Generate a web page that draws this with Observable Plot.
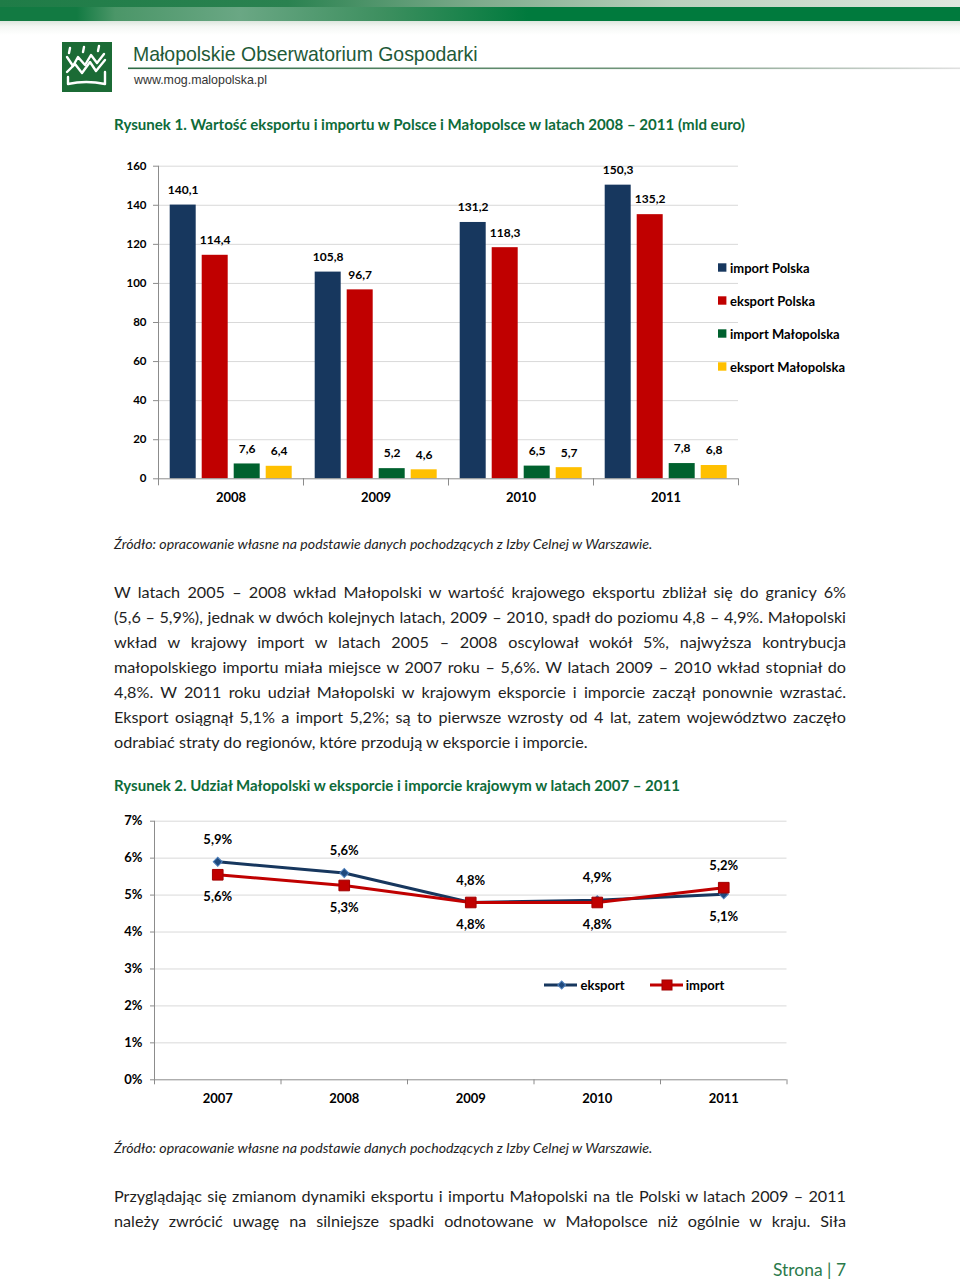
<!DOCTYPE html>
<html>
<head>
<meta charset="utf-8">
<script src="https://cdn.jsdelivr.net/npm/d3@7"></script>
<script src="https://cdn.jsdelivr.net/npm/@observablehq/plot@0.6"></script>
<style>
  html, body { margin: 0; padding: 0; background: #fff; }
  #page { position: relative; width: 960px; height: 1282px; overflow: hidden; font-family: Lato, "Open Sans", sans-serif; color: #1e1e1e; }
  .ln { position: absolute; left: 114px; width: 732px; text-align: justify; text-align-last: justify; line-height: 20px; color: #1e1e1e; white-space: nowrap; }
  .chart { position: absolute; }
  #overlay { position: absolute; left: 0; top: 0; pointer-events: none; }
</style>
</head>
<body>
<div id="page">
  <div style="position:absolute;left:0;top:0;width:960px;height:7px;background:linear-gradient(90deg,#1f7c47 0%,#2a8250 30%,#7eab8c 50%,#b9d0bd 70%,#dfe8df 100%)"></div>
  <div style="position:absolute;left:0;top:7px;width:960px;height:14px;background:linear-gradient(90deg,#127a42 0%,#127a42 8%,#4b9668 12%,#6aa784 25%,#3d8f5f 40%,#007a3d 55%,#007a3d 100%)"></div>
  <div style="position:absolute;left:0;top:21px;width:960px;height:14px;background:linear-gradient(180deg,#dde6de 0%,#f4f7f4 40%,#ffffff 100%)"></div>
  <div id="chart1" class="chart" style="left:100px;top:150px;width:650px;height:370px"></div>
  <div id="chart2" class="chart" style="left:100px;top:805px;width:700px;height:310px"></div>
</div>
<script>
// ---------- DATA ----------
const years1 = ["2008", "2009", "2010", "2011"];
const series1 = ["import Polska", "eksport Polska", "import Małopolska", "eksport Małopolska"];
const importPolska = [140.1, 105.8, 131.2, 150.3];
const eksportPolska = [114.4, 96.7, 118.3, 135.2];
const importMalopolska = [7.6, 5.2, 6.5, 7.8];
const eksportMalopolska = [6.4, 4.6, 5.7, 6.8];
const yTicks1 = [0, 20, 40, 60, 80, 100, 120, 140, 160];
const colors1 = ["#17375e", "#c00000", "#00612e", "#ffc000"];

const years2 = ["2007", "2008", "2009", "2010", "2011"];
const series2 = ["eksport", "import"];
const eksportShare = [5.9, 5.6, 4.8, 4.86, 5.02];
const importShare = [5.55, 5.26, 4.8, 4.8, 5.2];
const eksportLabels = ["5,9%", "5,6%", "4,8%", "4,9%", "5,1%"];
const importLabels = ["5,6%", "5,3%", "4,8%", "4,8%", "5,2%"];
const yTicks2 = [0, 1, 2, 3, 4, 5, 6, 7];
const colors2 = ["#17375e", "#c00000"];

const paragraph1 = [
  "W latach 2005 – 2008 wkład Małopolski w wartość krajowego eksportu zbliżał się do granicy 6%",
  "(5,6 – 5,9%), jednak w dwóch kolejnych latach, 2009 – 2010, spadł do poziomu 4,8 – 4,9%. Małopolski",
  "wkład w krajowy import w latach 2005 – 2008 oscylował wokół 5%, najwyższa kontrybucja",
  "małopolskiego importu miała miejsce w 2007 roku – 5,6%. W latach 2009 – 2010 wkład stopniał do",
  "4,8%. W 2011 roku udział Małopolski w krajowym eksporcie i imporcie zaczął ponownie wzrastać.",
  "Eksport osiągnął 5,1% a import 5,2%; są to pierwsze wzrosty od 4 lat, zatem województwo zaczęło",
  "odrabiać straty do regionów, które przodują w eksporcie i imporcie."
];
const paragraph2 = [
  "Przyglądając się zmianom dynamiki eksportu i importu Małopolski na tle Polski w latach 2009 – 2011",
  "należy zwrócić uwagę na silniejsze spadki odnotowane w Małopolsce niż ogólnie w kraju. Siła"
];
const title1 = "Rysunek 1. Wartość eksportu i importu w Polsce i Małopolsce w latach 2008 – 2011 (mld euro)";
const title2 = "Rysunek 2. Udział Małopolski w eksporcie i imporcie krajowym w latach 2007 – 2011";
const sourceText = "Źródło: opracowanie własne na podstawie danych pochodzących z Izby Celnej w Warszawie.";

// ---------- CHART 1 ----------
const seriesVals1 = [importPolska, eksportPolska, importMalopolska, eksportMalopolska];
const rows1 = [];
years1.forEach((yr, i) => series1.forEach((s, j) => rows1.push({year: yr, series: s, value: seriesVals1[j][i]})));
const fmt1 = v => v.toFixed(1).replace(".", ",");
const ph1 = 312.6;
const grey = "#8c8c8c";

const chart1 = Plot.plot({
  width: 650, height: 370,
  marginLeft: 57.3, marginRight: 12.3, marginTop: 15.7, marginBottom: 41.7,
  style: {fontFamily: "Lato, sans-serif", fontWeight: "bold", fontSize: "11px", color: "#000", background: "transparent", overflow: "visible"},
  fx: {domain: years1, padding: 0, label: null},
  x: {domain: series1, paddingInner: 0.2, paddingOuter: 0.34, axis: null},
  y: {domain: [0, 160], label: null},
  color: {domain: series1, range: colors1},
  marks: [
    Plot.gridY(yTicks1.filter(t => t > 0), {stroke: "#d9d9d9", strokeOpacity: 1}),
    Plot.barY(rows1, {fx: "year", x: "series", y: "value", fill: "series"}),
    Plot.text(rows1, {fx: "year", x: "series", y: "value", text: d => fmt1(d.value), dy: -15, fill: "#000", fontSize: 12, fontWeight: "bold"}),
    Plot.ruleY([0], {stroke: grey}),
    Plot.frame({anchor: "left", stroke: grey, insetTop: ph1, insetBottom: -6}),
    Plot.frame({anchor: "right", stroke: grey, insetTop: ph1, insetBottom: -6}),
    Plot.frame({anchor: "left", facetAnchor: "left", stroke: grey}),
    Plot.axisY(yTicks1, {anchor: "left", tickSize: 5, tickPadding: 7, stroke: grey, fill: "#000", fontSize: 11.5, fontWeight: "bold", label: null}),
    Plot.axisFx({anchor: "bottom", tickSize: 0, tickPadding: 14, fill: "#000", fontSize: 13, fontWeight: "bold", label: null})
  ]
});
document.getElementById("chart1").appendChild(chart1);

// ---------- CHART 2 ----------
const rows2 = [];
years2.forEach((yr, i) => {
  rows2.push({year: +yr, series: "eksport", value: eksportShare[i], label: eksportLabels[i], above: eksportShare[i] >= importShare[i]});
  rows2.push({year: +yr, series: "import", value: importShare[i], label: importLabels[i], above: importShare[i] > eksportShare[i]});
});
const eksRows = rows2.filter(d => d.series === "eksport");
const impRows = rows2.filter(d => d.series === "import");
const yearNums = years2.map(Number);
const boundaries = [yearNums[0] - 0.5, ...yearNums.map(y => y + 0.5)];

const chart2 = Plot.plot({
  width: 700, height: 310,
  marginLeft: 54, marginRight: 13.5, marginTop: 15.7, marginBottom: 35.7,
  style: {fontFamily: "Lato, sans-serif", fontWeight: "bold", fontSize: "12px", color: "#000", background: "transparent", overflow: "visible"},
  x: {domain: [boundaries[0], boundaries[boundaries.length - 1]], label: null},
  y: {domain: [0, 7], label: null},
  marks: [
    Plot.gridY(yTicks2.filter(t => t > 0), {stroke: "#d9d9d9", strokeOpacity: 1}),
    Plot.ruleY([0], {stroke: grey}),
    Plot.frame({anchor: "left", stroke: grey}),
    Plot.axisX(boundaries, {tickSize: 5, fill: "none", stroke: grey, label: null}),
    Plot.axisX(yearNums, {tickSize: 0, tickPadding: 13.5, tickFormat: d => String(d), fill: "#000", fontSize: 13, fontWeight: "bold", label: null}),
    Plot.axisY(yTicks2, {tickSize: 4, tickPadding: 8, tickFormat: d => d + "%", stroke: grey, fill: "#000", fontSize: 13, fontWeight: "bold", label: null}),
    Plot.line(eksRows, {x: "year", y: "value", stroke: colors2[0], strokeWidth: 3}),
    Plot.dot(eksRows, {x: "year", y: "value", symbol: "square", rotate: 45, r: 3.6, fill: "#1f497d", stroke: "#4f81bd", strokeWidth: 1}),
    Plot.line(impRows, {x: "year", y: "value", stroke: colors2[1], strokeWidth: 3}),
    Plot.dot(impRows, {x: "year", y: "value", symbol: "square", r: 6, fill: "#c00000", stroke: "#a00000", strokeWidth: 1}),
    Plot.text(rows2.filter(d => d.above), {x: "year", y: "value", text: "label", dy: -22, fill: "#000", fontSize: 13, fontWeight: "bold"}),
    Plot.text(rows2.filter(d => !d.above), {x: "year", y: "value", text: "label", dy: 22, fill: "#000", fontSize: 13, fontWeight: "bold"})
  ]
});
document.getElementById("chart2").appendChild(chart2);

// ---------- OVERLAY (header, titles, legends) ----------
const page = document.getElementById("page");
const NS = "http://www.w3.org/2000/svg";
const ov = document.createElementNS(NS, "svg");
ov.setAttribute("id", "overlay");
ov.setAttribute("width", 960);
ov.setAttribute("height", 1282);
page.appendChild(ov);
function el(tag, attrs, parent = ov) {
  const e = document.createElementNS(NS, tag);
  for (const k in attrs) e.setAttribute(k, attrs[k]);
  parent.appendChild(e);
  return e;
}
function txt(str, x, y, opts) {
  const t = el("text", Object.assign({x, y, "font-family": "Lato, sans-serif", "font-size": 13, fill: "#000"}, opts.attrs || {}));
  t.textContent = str;
  if (opts.width) {
    const fs = parseFloat(t.getAttribute("font-size"));
    const w = t.getComputedTextLength();
    if (w > 0) t.setAttribute("font-size", (fs * opts.width / w).toFixed(2));
  }
  return t;
}
// header gradient line
const defs = el("defs", {});
const lg = el("linearGradient", {id: "hl", x1: "0", x2: "1", y1: "0", y2: "0"}, defs);
el("stop", {offset: "0", "stop-color": "#2d6b45"}, lg);
el("stop", {offset: "0.6", "stop-color": "#6f9479"}, lg);
el("stop", {offset: "1", "stop-color": "#e0e0e0"}, lg);
el("rect", {x: 128, y: 67.5, width: 832, height: 1.6, fill: "url(#hl)"});
// logo
el("rect", {x: 62, y: 42, width: 50, height: 50, fill: "#1b6b35"});
const w = {fill: "none", stroke: "#fff", "stroke-width": 2.4, "stroke-linejoin": "round", "stroke-linecap": "round"};
el("path", Object.assign({d: "M70 48 l-1 5 M84 47 l-1 5 M99 46 l-1 5"}, w));
el("path", Object.assign({d: "M67 57 L73 66 L78 57 L85 65 L91 55 L97 63 L104 54"}, w));
el("path", Object.assign({d: "M67 72 L75 64 L82 73 L90 62 L96 71 L105 60"}, w));
el("path", Object.assign({d: "M68 77 L68 84 Q86 80 105 84 L105 72"}, w));

txt("Małopolskie Obserwatorium Gospodarki", 133, 61, {width: 345, attrs: {"font-family": "Liberation Sans, Arial, sans-serif", "font-size": 20, fill: "#1e5a38"}});
txt("www.mog.malopolska.pl", 134, 84, {width: 133, attrs: {"font-family": "Liberation Sans, Arial, sans-serif", "font-size": 12.5, fill: "#333"}});
txt(title1, 114, 130, {width: 631, attrs: {"font-weight": "bold", "font-size": 14, fill: "#0e6b3a"}});
txt(sourceText, 114, 549, {width: 539, attrs: {"font-style": "italic", "font-size": 13, fill: "#1e1e1e"}});
txt(title2, 114, 791, {width: 566, attrs: {"font-weight": "bold", "font-size": 14, fill: "#0e6b3a"}});
txt(sourceText, 114, 1153, {width: 539, attrs: {"font-style": "italic", "font-size": 13, fill: "#1e1e1e"}});
txt("Strona | 7", 773, 1276, {width: 73, attrs: {"font-size": 16, fill: "#2b7a4b"}});

// legend chart 1
series1.forEach((s, i) => {
  const cy = 267.5 + i * 33;
  el("rect", {x: 718, y: cy - 4.2, width: 8.4, height: 8.4, fill: colors1[i]});
  txt(s, 730, cy + 5, {attrs: {"font-weight": "bold", "font-size": 13}});
});
// legend chart 2
const lgY = 985;
el("line", {x1: 544, x2: 577, y1: lgY, y2: lgY, stroke: colors2[0], "stroke-width": 3});
el("rect", {x: 561.7 - 2.8, y: lgY - 2.8, width: 5.6, height: 5.6, fill: "#1f497d", stroke: "#4f81bd", transform: `rotate(45 561.7 ${lgY})`});
txt(series2[0], 580.5, lgY + 4.5, {attrs: {"font-weight": "bold", "font-size": 13}});
el("line", {x1: 650, x2: 683, y1: lgY, y2: lgY, stroke: colors2[1], "stroke-width": 3});
el("rect", {x: 667 - 5, y: lgY - 5, width: 10, height: 10, fill: "#c00000", stroke: "#a00000"});
txt(series2[1], 685.7, lgY + 4.5, {attrs: {"font-weight": "bold", "font-size": 13}});

// ---------- PARAGRAPHS ----------
function natWidth(text, fs) {
  const m = document.createElement("span");
  m.style.cssText = `position:absolute;white-space:nowrap;font-size:${fs}px;visibility:hidden;left:0;top:0;font-family:Lato, sans-serif`;
  m.textContent = text;
  page.appendChild(m);
  const wd = m.getBoundingClientRect().width;
  page.removeChild(m);
  return wd;
}
let paraFs = 16 * 487 / natWidth(paragraph1[paragraph1.length - 1], 16);
[...paragraph1.slice(0, -1), ...paragraph2].forEach(line => {
  paraFs = Math.min(paraFs, 16 * 724 / natWidth(line, 16));
});

function placeLine(text, baseline, justify) {
  const d = document.createElement("div");
  d.className = "ln";
  d.style.top = "0px";
  d.style.fontSize = paraFs.toFixed(2) + "px";
  if (!justify) { d.style.textAlign = "left"; d.style.textAlignLast = "left"; }
  const probe = document.createElement("span");
  probe.style.cssText = "display:inline-block;width:0;height:0;";
  d.appendChild(probe);
  d.appendChild(document.createTextNode(text));
  page.appendChild(d);
  const pb = probe.getBoundingClientRect().bottom - page.getBoundingClientRect().top;
  d.style.top = (baseline - pb) + "px";
}
paragraph1.forEach((line, i) => placeLine(line, 598 + i * 25, i < paragraph1.length - 1));
paragraph2.forEach((line, i) => placeLine(line, 1202 + i * 25, true));
</script>
</body>
</html>
